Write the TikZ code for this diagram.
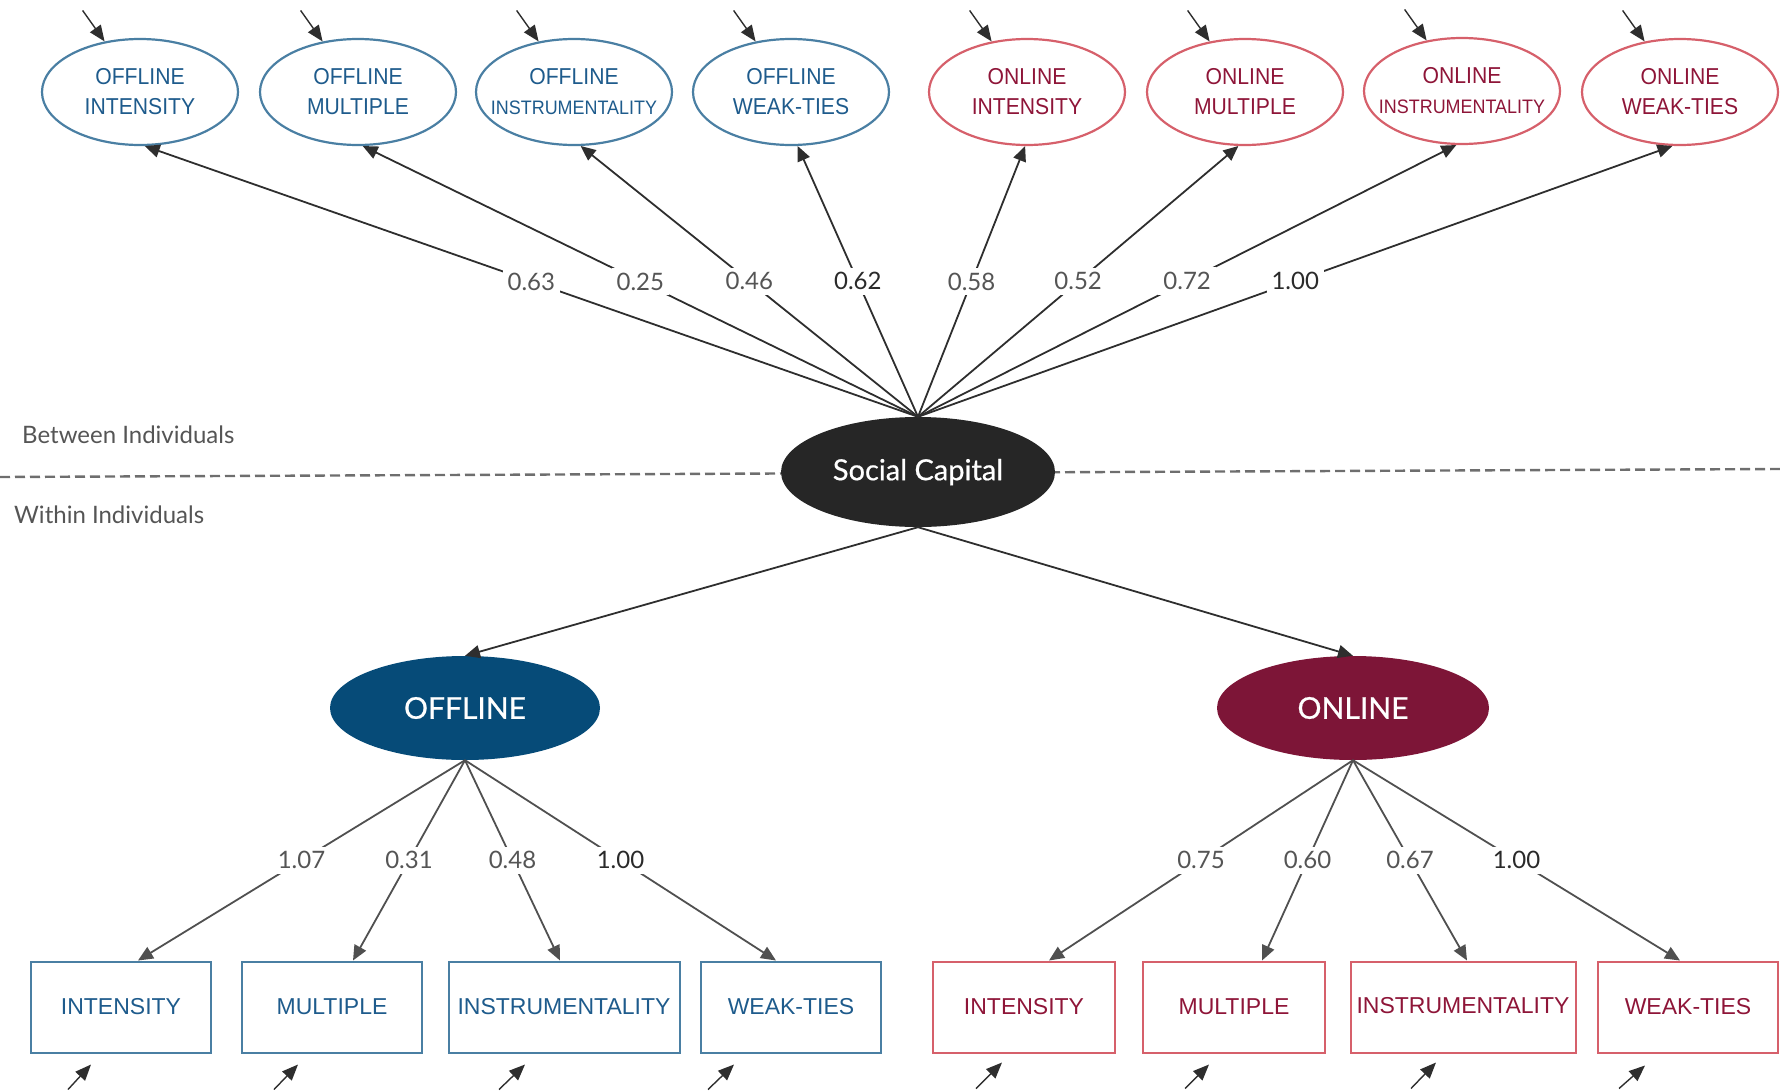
\documentclass[tikz,border=0pt]{standalone}
\usepackage{fontspec}
\setmainfont{Liberation Sans}
\newfontfamily\latofont{Lato}
\newfontfamily\latobfont[FakeBold=0.6]{Lato}
\newfontfamily\ellfont[FakeStretch=0.92]{Liberation Sans}
\usetikzlibrary{arrows.meta,calc,shapes.geometric}
\definecolor{offS}{HTML}{4A7FA3}
\definecolor{offT}{HTML}{1E5B8C}
\definecolor{onS}{HTML}{D6606B}
\definecolor{onT}{HTML}{8E1538}
\definecolor{offF}{HTML}{064B78}
\definecolor{onF}{HTML}{7D1537}
\definecolor{scF}{HTML}{262626}
\definecolor{arrC}{HTML}{2E2E2E}
\definecolor{arrB}{HTML}{505050}
\definecolor{labC}{HTML}{555555}
\definecolor{labD}{HTML}{2A2A2A}
\definecolor{dashC}{HTML}{6E6E6E}
\newcommand{\fixw}[1]{\makebox[120pt][c]{#1}}
\begin{document}
\begin{tikzpicture}[x=1pt,y=-1pt,
  topoff/.style={ellipse, draw=offS, line width=2.2pt, minimum width=196pt, minimum height=106pt, inner sep=0pt, align=center, text=offT, font=\ellfont\fontsize{23}{30}\selectfont},
  topon/.style={topoff, draw=onS, text=onT},
  boxoff/.style={rectangle, draw=offS, line width=2pt, minimum width=180pt, minimum height=91pt, inner sep=0pt, text=offT, font=\fontsize{23}{28}\selectfont},
  boxon/.style={boxoff, draw=onS, text=onT},
  latent/.style={ellipse, inner sep=0pt, text=white, font=\latobfont\fontsize{30}{30}\selectfont},
  load/.style={draw=arrC, line width=1.8pt, -{Triangle[length=15pt,width=13pt]}},
  loadb/.style={draw=arrB, line width=1.8pt, -{Triangle[length=15pt,width=13pt]}},
  lab/.style={fill=white, inner sep=5pt, text=labC, font=\latofont\fontsize{24}{24}\selectfont},
  labd/.style={lab, text=labD},
  err/.style={draw=arrC, line width=1.4pt, -{Triangle[length=16pt,width=13pt]}},
  sidetext/.style={anchor=west, inner sep=0pt, text=labC, font=\latofont\fontsize{24}{24}\selectfont},
  dashline/.style={draw=dashC, line width=2.4pt, dash pattern=on 10pt off 5pt}
]
\useasboundingbox (0,0) rectangle (1780,1092);

% divider
\coordinate (dl) at (0,477);
\coordinate (dr) at (1780,469);
\draw[dashline] (dl) -- (dr);
\node[sidetext] (between) at (22,435) {Between Individuals};
\node[sidetext] (within) at (14,515) {Within Individuals};

% top indicators
\node[topoff] (t1) at (140,92) {OFFLINE\\INTENSITY};
\node[topoff] (t2) at (358,92) {OFFLINE\\MULTIPLE};
\node[topoff] (t3) at (574,92) {\fixw{OFFLINE}\\\fixw{\fontsize{19.5}{30}\selectfont INSTRUMENTALITY}};
\node[topoff] (t4) at (791,92) {OFFLINE\\WEAK-TIES};
\node[topon] (t5) at (1027,92) {ONLINE\\INTENSITY};
\node[topon] (t6) at (1245,92) {ONLINE\\MULTIPLE};
\node[topon] (t7) at (1462,91) {\fixw{ONLINE}\\\fixw{\fontsize{19.5}{30}\selectfont INSTRUMENTALITY}};
\node[topon] (t8) at (1680,92) {ONLINE\\WEAK-TIES};

% latent variables
\node[latent, fill=scF, minimum width=274pt, minimum height=110pt, font=\latobfont\fontsize{29}{29}\selectfont] (sc) at (918,472) {Social Capital};
\node[latent, fill=offF, minimum width=270pt, minimum height=104pt] (off) at (465,708) {OFFLINE};
\node[latent, fill=onF, minimum width=272pt, minimum height=104pt] (on) at (1353,708) {ONLINE};

% bottom indicators
\node[boxoff] (b1) at (121,1007) {INTENSITY};
\node[boxoff] (b2) at (332,1007) {MULTIPLE};
\node[boxoff, minimum width=231pt] (b3) at (564,1007) {INSTRUMENTALITY};
\node[boxoff] (b4) at (791,1007) {WEAK-TIES};
\node[boxon, minimum width=182pt] (b5) at (1024,1007) {INTENSITY};
\node[boxon, minimum width=182pt] (b6) at (1234,1007) {MULTIPLE};
\node[boxon, minimum width=225pt] (b7) at (1463,1007) {\raisebox{3pt}{INSTRUMENTALITY}};
\node[boxon] (b8) at (1688,1007) {WEAK-TIES};

% loadings Social Capital -> top
\draw[load] (sc.north) -- node[lab] {0.63} (t1.-85);
\draw[load] (sc.north) -- node[lab] {0.25} (t2.-85);
\draw[load] (sc.north) -- node[lab] {0.46} (t3.-83);
\draw[load] (sc.north) -- node[labd] {0.62} (t4.-83);
\draw[load] (sc.north) -- node[lab] {0.58} (t5.-92);
\draw[load] (sc.north) -- node[lab] {0.52} (t6.-97);
\draw[load] (sc.north) -- node[lab] {0.72} (t7.-96);
\draw[load] (sc.north) -- node[labd] {1.00} (t8.-98);

% Social Capital -> latent
\draw[load] (sc.south) -- (off.north);
\draw[load] (sc.south) -- (on.north);

% loadings latent -> boxes
\draw[loadb] (off.south) -- node[lab] {1.07} ([xshift=17pt]b1.north);
\draw[loadb] (off.south) -- node[lab] {0.31} ([xshift=21pt]b2.north);
\draw[loadb] (off.south) -- node[lab] {0.48} ([xshift=-4pt]b3.north);
\draw[loadb] (off.south) -- node[labd] {1.00} ([xshift=-15pt]b4.north);
\draw[loadb] (on.south) -- node[lab] {0.75} ([xshift=25pt]b5.north);
\draw[loadb] (on.south) -- node[lab] {0.60} ([xshift=28pt]b6.north);
\draw[loadb] (on.south) -- node[lab] {0.67} ([xshift=4pt]b7.north);
\draw[loadb] (on.south) -- node[labd] {1.00} ([xshift=-8pt]b8.north);

% error arrows top
\foreach \n in {t1,t2,t3,t4,t5,t6,t7,t8}{
  \draw[err] ($(\n.125)+(-22,-31)$) -- (\n.125);
}
% error arrows bottom
\draw[err] ($(b1.south)+(-53,36)$) -- ($(b1.south)+(-30,11)$);
\draw[err] ($(b2.south)+(-58,36)$) -- ($(b2.south)+(-34,11)$);
\draw[err] ($(b3.south)+(-65,36)$) -- ($(b3.south)+(-39,11)$);
\draw[err] ($(b4.south)+(-83,36)$) -- ($(b4.south)+(-57,11)$);
\draw[err] ($(b5.south)+(-48,35)$) -- ($(b5.south)+(-22,9)$);
\draw[err] ($(b6.south)+(-49,35)$) -- ($(b6.south)+(-25,11)$);
\draw[err] ($(b7.south)+(-52,35)$) -- ($(b7.south)+(-27,9)$);
\draw[err] ($(b8.south)+(-69,35)$) -- ($(b8.south)+(-43,12)$);
\end{tikzpicture}
\end{document}
